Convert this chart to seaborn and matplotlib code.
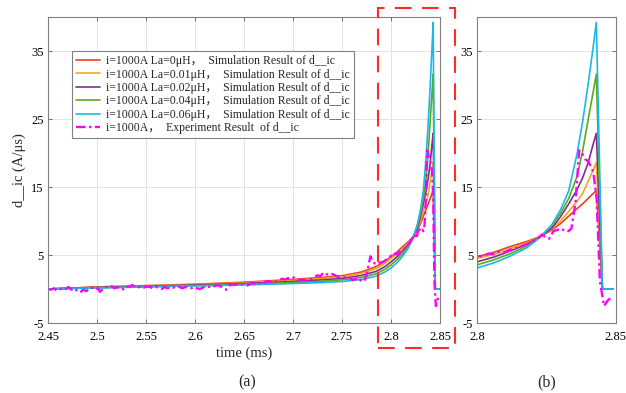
import matplotlib
matplotlib.use("Agg")
import matplotlib.pyplot as plt
import seaborn as sns
import pandas as pd
from matplotlib.patches import Rectangle

sns.set_theme(style="white")
plt.rcParams['font.family'] = ['Liberation Serif', 'Noto Sans CJK SC', 'DejaVu Sans']
plt.rcParams['mathtext.fontset'] = 'stix'

# ---------------- data ----------------
sim_t = [2.45, 2.50, 2.55, 2.60, 2.65, 2.70, 2.73, 2.75, 2.77, 2.785, 2.795, 2.800,
         2.806, 2.812, 2.818, 2.823, 2.827, 2.830, 2.833, 2.836, 2.838, 2.840,
         2.842, 2.843, 2.8452, 2.849]

sim_la0 = [0.0, 0.3, 0.5, 0.7, 1.0, 1.4, 1.7, 1.95, 2.5, 3.3, 4.2, 4.75,
           5.4, 6.25, 7.0, 7.75, 8.7, 9.6, 10.7, 11.8, 12.5, 13.3,
           14.1, 14.5, 0.0, 0.0]
sim_la001 = [0.0, 0.3, 0.45, 0.65, 0.9, 1.25, 1.55, 1.8, 2.3, 3.0, 3.9, 4.5,
             5.1, 5.95, 6.8, 7.75, 8.9, 10.0, 11.4, 12.9, 14.0, 15.8,
             17.6, 18.6, 0.0, 0.0]
sim_la002 = [0.0, 0.25, 0.4, 0.6, 0.8, 1.1, 1.35, 1.55, 2.0, 2.6, 3.4, 4.0,
             4.7, 5.6, 6.6, 7.75, 9.0, 10.6, 12.5, 14.6, 16.3, 18.5,
             21.5, 22.9, 0.0, 0.0]
sim_la004 = [0.0, 0.2, 0.35, 0.5, 0.7, 0.95, 1.15, 1.35, 1.7, 2.25, 3.0, 3.55,
             4.3, 5.2, 6.35, 7.75, 9.4, 11.1, 13.3, 16.5, 20.2, 24.8,
             29.3, 31.6, 0.0, 0.0]
sim_la006 = [0.0, 0.15, 0.3, 0.45, 0.6, 0.8, 0.95, 1.1, 1.4, 1.9, 2.6, 3.1,
             3.85, 4.85, 6.1, 7.7, 9.5, 11.6, 14.4, 19.8, 24.5, 30.0,
             36.0, 39.2, 0.0, 0.0]

exp_t = [2.450, 2.453, 2.456, 2.459, 2.462, 2.465, 2.468, 2.471, 2.474, 2.477,
         2.480, 2.483, 2.486, 2.489, 2.492, 2.495, 2.498, 2.501, 2.503, 2.506,
         2.509, 2.512, 2.515, 2.518, 2.521, 2.524, 2.527, 2.530, 2.533, 2.536,
         2.539, 2.542, 2.545, 2.548, 2.551, 2.554, 2.557, 2.560, 2.563, 2.566,
         2.569, 2.572, 2.575, 2.578, 2.581, 2.584, 2.587, 2.590, 2.593, 2.596,
         2.599, 2.602, 2.605, 2.608, 2.611, 2.614, 2.617, 2.620, 2.623, 2.626,
         2.629, 2.632, 2.635, 2.638, 2.641, 2.644, 2.647, 2.650, 2.653, 2.656,
         2.659, 2.662, 2.665, 2.668, 2.671, 2.674, 2.677, 2.680, 2.683, 2.686,
         2.689, 2.692, 2.695, 2.698, 2.701, 2.704, 2.707, 2.710, 2.713, 2.716,
         2.719, 2.722, 2.725, 2.728, 2.731, 2.734, 2.737, 2.740, 2.743, 2.746,
         2.749, 2.752, 2.755, 2.758, 2.761, 2.764, 2.767, 2.770, 2.773, 2.775,
         2.777, 2.779, 2.781, 2.783, 2.786, 2.789, 2.792, 2.795, 2.798, 2.800,
         2.802, 2.804, 2.806, 2.808, 2.810, 2.812, 2.814, 2.816, 2.818, 2.820,
         2.822, 2.8233, 2.8245, 2.826, 2.8275, 2.829, 2.830, 2.8315, 2.8322, 2.833,
         2.834, 2.8355, 2.8368, 2.8378, 2.8389, 2.840, 2.8412, 2.8419, 2.8431, 2.8443,
         2.8458, 2.8473, 2.8489]
exp_v = [0.0, -0.1, 0.1, -0.2, -0.1, 0.2, 0.0, 0.3, -0.1, 0.1,
         -0.3, -0.5, -0.1, -0.3, 0.0, 0.2, -0.1, 0.1, -0.4, 0.0,
         0.3, 0.2, 0.4, 0.1, 0.3, -0.1, 0.0, 0.4, 0.3, 0.6,
         0.3, 0.2, 0.4, 0.2, 0.4, 0.3, 0.1, 0.3, 0.2, 0.0,
         0.3, 0.1, 0.3, 0.2, 0.4, 0.3, 0.1, 0.3, 0.2, 0.1,
         0.3, 0.1, 0.0, 0.2, 0.4, 0.3, 0.5, 0.4, 0.6, 0.4,
         0.1, -0.1, 0.5, 0.7, 0.6, 0.8, 0.7, 0.6, 0.5, 0.7,
         0.9, 0.6, 0.8, 1.0, 0.9, 1.2, 1.0, 1.3, 1.1, 1.3,
         1.5, 1.4, 1.6, 1.5, 1.7, 1.5, 1.3, 1.4, 1.2, 1.4,
         1.5, 1.8, 2.0, 1.9, 2.4, 2.2, 2.0, 2.2, 2.0, 1.8,
         1.9, 1.7, 1.8, 1.6, 1.3, 1.5, 1.1, 1.4, 1.2, 2.0,
         3.4, 4.8, 4.2, 3.8, 3.6, 3.9, 4.0, 4.3, 4.6, 4.9,
         4.8, 5.2, 5.1, 5.5, 5.4, 5.8, 6.0, 6.3, 6.6, 7.0,
         7.5, 8.0, 7.7, 7.4, 8.5, 8.7, 8.9, 8.6, 8.7, 8.5,
         8.9, 12.8, 20.4, 20.0, 19.1, 18.8, 17.9, 17.2, 13.3, 1.1,
         -2.5, -1.6, -1.1]

labels = ["i=1000A La=0μH，  Simulation Result of d__ic",
          "i=1000A La=0.01μH，  Simulation Result of d__ic",
          "i=1000A La=0.02μH，  Simulation Result of d__ic",
          "i=1000A La=0.04μH，  Simulation Result of d__ic",
          "i=1000A La=0.06μH，  Simulation Result of d__ic",
          "i=1000A，  Experiment Result  of d__ic"]
colors = ["#e8401c", "#f0a81e", "#7e2f8e", "#5eaa1a", "#1ab8ea", "#ff00ff"]

left_xticks = [2.45, 2.5, 2.55, 2.6, 2.65, 2.7, 2.75, 2.8, 2.85]
left_xticklabels = ["2.45", "2.5", "2.55", "2.6", "2.65", "2.7", "2.75", "2.8", "2.85"]
right_xticks = [2.8, 2.85]
right_xticklabels = ["2.8", "2.85"]
yticks = [-5, 5, 15, 25, 35]

# ---------------- figure ----------------
W, H = 626, 393
fig = plt.figure(figsize=(W / 100, H / 100), dpi=100)
ax1 = fig.add_axes([48 / W, 1 - 323 / H, 392 / W, 306 / H])
ax2 = fig.add_axes([477.3 / W, 1 - 323 / H, 138.4 / W, 306 / H])

sims = [sim_la0, sim_la001, sim_la002, sim_la004, sim_la006]

for ax in (ax1, ax2):
    for vals, c, lab in zip(sims, colors[:5], labels[:5]):
        df = pd.DataFrame({"t": sim_t, "v": vals})
        sns.lineplot(data=df, x="t", y="v", ax=ax, color=c, lw=1.2,
                     estimator=None, sort=False, label=lab, legend=False)
    dfe = pd.DataFrame({"t": exp_t, "v": exp_v})
    sns.lineplot(data=dfe, x="t", y="v", ax=ax, color=colors[5], lw=1.7,
                 linestyle=(0, (4, 1.5, 1, 1.5)), estimator=None, sort=False,
                 label=labels[5], legend=False)
    ax.set_ylim(-5, 40)
    ax.set_yticks(yticks)
    ax.set_yticklabels([str(v) for v in yticks], fontsize=9)
    ax.grid(True, color="#e3e3e3", lw=0.7)
    ax.set_axisbelow(True)
    for s in ax.spines.values():
        s.set_color("#808080")
        s.set_linewidth(0.8)
    ax.tick_params(direction="in", length=3, width=0.6, color="#606060",
                   top=True, right=True, bottom=True, left=True,
                   labelsize=9, labelcolor="black")
    ax.tick_params(axis="x", pad=5.5)
    ax.tick_params(axis="y", pad=3)
    ax.set_ylabel("")
    ax.set_xlabel("")

ax1.set_xlim(2.45, 2.85)
ax1.set_xticks(left_xticks)
ax1.set_xticklabels(left_xticklabels, fontsize=9)
ax2.set_xlim(2.8, 2.85)
ax2.set_xticks(right_xticks)
ax2.set_xticklabels(right_xticklabels, fontsize=9)

ax1.set_xlabel("time (ms)", fontsize=10.5, labelpad=3)
ax1.set_ylabel("d__ic (A/μs)", fontsize=10.5, labelpad=4)

handles, labs = ax1.get_legend_handles_labels()
leg = ax1.legend(handles, labs, loc="upper left", bbox_to_anchor=(0.061, 0.889),
                 borderaxespad=0, fontsize=8.5, frameon=True, fancybox=False,
                 edgecolor="#808080", framealpha=1, handlelength=2.0,
                 handletextpad=0.55, labelspacing=0.12, borderpad=0.35)
leg.get_frame().set_linewidth(0.8)

fig.text(247 / W, 1 - 382 / H, "(a)", ha="center", va="center", fontsize=11.5)
fig.text(547 / W, 1 - 382 / H, "(b)", ha="center", va="center", fontsize=11.5)

rect = Rectangle((378 / W, 1 - 348 / H), 77 / W, 340 / H, transform=fig.transFigure,
                 fill=False, edgecolor="#ff2a2a", lw=1.5, linestyle=(0, (8, 5)),
                 clip_on=False)
fig.add_artist(rect)

fig.savefig("out.png", dpi=100)
